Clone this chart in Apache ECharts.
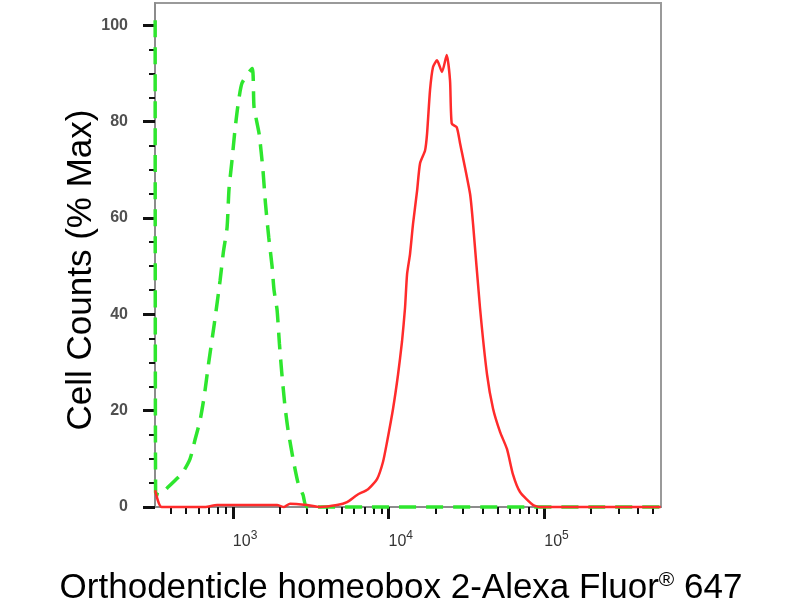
<!DOCTYPE html>
<html>
<head>
<meta charset="utf-8">
<script src="https://cdn.jsdelivr.net/npm/echarts@6/dist/echarts.min.js"></script>
<style>
  html, body { margin: 0; padding: 0; background: #fff; }
  #chart { width: 800px; height: 600px; }
</style>
</head>
<body>
<div id="chart"></div>
<script>
// isotype control, green dashed (fluorescence, % max)
var controlFluor = [317, 319, 335, 380, 472, 531, 572, 616, 655, 700, 760, 828, 870, 918, 945, 988, 1030, 1080, 1146, 1330, 1368, 1474, 1560, 1620, 1700, 1786, 1839, 1922, 1990, 2060, 2160, 2262, 2436, 2623, 2824, 3000, 560000];
var controlPct   = [101, 3, 2.5, 4, 7, 10, 14, 18, 23, 30, 38, 47, 53, 58, 66, 72, 78, 83.5, 88, 91, 83, 77.5, 70, 63, 56, 50, 45, 41, 34, 28, 21, 16, 10, 5, 2.5, 0, 0];

// stained sample, red solid
var stainedFluor = [317, 349, 663, 792, 1922, 2132, 2330, 2997, 3632, 4670, 5413, 6278, 7386, 8437, 9220, 9781, 10690, 11510, 12210, 12760, 13150, 13740, 14370, 15250, 15930, 17160, 17680, 18470, 19310, 20490, 22060, 23640, 24830, 25460, 27420, 28790, 33380, 34890, 38690, 42920, 46920, 52020, 57680, 63040, 69920, 84760, 93980, 560000];
var stainedPct   = [3.5, 0, 0, 0.4, 0.4, 0, 0.7, 0.4, 0, 0.4, 1, 2.5, 3.7, 5.8, 9.4, 13.5, 20.4, 27.5, 34.4, 41.3, 48.3, 52.5, 58.8, 65.6, 71.3, 74, 77.5, 86.5, 91.3, 92.7, 90.3, 93.8, 88.5, 79.6, 78.8, 75.5, 65, 58.8, 41.3, 27.5, 20.4, 15.6, 12, 6.7, 3.1, 0.4, 0, 0];

// ticks
var xMajorExp = [3, 4, 5];
var xMinorFluor = [400, 500, 600, 700, 800, 900, 2000, 3000, 4000, 5000, 6000, 7000, 8000, 9000,
                   20000, 30000, 40000, 50000, 60000, 70000, 80000, 90000, 200000, 300000, 400000, 500000];
var yMajor = [0, 20, 40, 60, 80, 100];
var yMinor = [5, 10, 15, 25, 30, 35, 45, 50, 55, 65, 70, 75, 85, 90, 95];

var xTitle = 'Orthodenticle homeobox 2-Alexa Fluor{r|®} 647';
var yTitle = 'Cell Counts (% Max)';

function toLog(xs, ys) {
  return xs.map(function (x, i) { return [Math.log10(x), ys[i]]; });
}

var chart = echarts.init(document.getElementById('chart'));
var FONT = 'Liberation Sans';
var xMin = 2.5, xMax = 5.75, yMin = 0, yMax = 104.6;

chart.setOption({
  animation: false,
  grid: {
    left: 155, right: 139, top: 3, bottom: 93,
    outerBoundsMode: 'none',
    show: true, borderColor: '#9a9a9a', borderWidth: 2
  },
  xAxis: [
    {
      type: 'value', min: xMin, max: xMax, position: 'bottom',
      axisLine: { lineStyle: { color: '#8c8c8c', width: 2 } },
      axisTick: { customValues: xMajorExp, length: 12, lineStyle: { color: '#111', width: 3 } },
      axisLabel: {
        customValues: xMajorExp, align: 'left', margin: 23,
        formatter: function (v) { return '{b|10}{s|' + Math.round(v) + '}'; },
        rich: {
          b: { fontSize: 16, fontFamily: FONT, color: '#333' },
          s: { fontSize: 12, fontFamily: FONT, color: '#333', padding: [0, 0, 12, 0] }
        }
      },
      splitLine: { show: false },
      name: xTitle, nameLocation: 'middle', nameGap: 63, nameMoveOverlap: false,
      nameTextStyle: {
        fontSize: 35, fontFamily: FONT, color: '#000', padding: [0, 14, 0, 0],
        rich: { r: { fontSize: 21, fontFamily: FONT, color: '#000', padding: [0, 0, 16, 0] } }
      }
    },
    {
      type: 'value', min: xMin, max: xMax, position: 'bottom',
      axisLine: { show: false },
      axisTick: { customValues: xMinorFluor.map(Math.log10), length: 7, lineStyle: { color: '#111', width: 2 } },
      axisLabel: { show: false },
      splitLine: { show: false }
    }
  ],
  yAxis: [
    {
      type: 'value', min: yMin, max: yMax, position: 'left',
      axisLine: { show: true, lineStyle: { color: '#8c8c8c', width: 2 } },
      axisTick: { show: true, customValues: yMajor, length: 12, lineStyle: { color: '#111', width: 3 } },
      axisLabel: { customValues: yMajor, margin: 27, fontSize: 16, fontWeight: 'bold', fontFamily: FONT, color: '#505050' },
      splitLine: { show: false },
      name: yTitle, nameLocation: 'middle', nameGap: 56, nameMoveOverlap: false,
      nameTextStyle: { fontSize: 35, fontFamily: FONT, color: '#000', padding: [0, 30, 0, 0] }
    },
    {
      type: 'value', min: yMin, max: yMax, position: 'left',
      axisLine: { show: false },
      axisTick: { show: true, customValues: yMinor, length: 6, lineStyle: { color: '#111', width: 2 } },
      axisLabel: { show: false },
      splitLine: { show: false }
    }
  ],
  series: [
    {
      type: 'line', name: 'control', data: toLog(controlFluor, controlPct),
      showSymbol: false, clip: false, smooth: 0.2, z: 3,
      lineStyle: { color: '#2ee62e', width: 3.5, type: [17, 10] }
    },
    {
      type: 'line', name: 'stained', data: toLog(stainedFluor, stainedPct),
      showSymbol: false, clip: false, smooth: 0.2, z: 4,
      lineStyle: { color: '#ff2b2b', width: 2.5 }
    }
  ]
});
</script>
</body>
</html>
